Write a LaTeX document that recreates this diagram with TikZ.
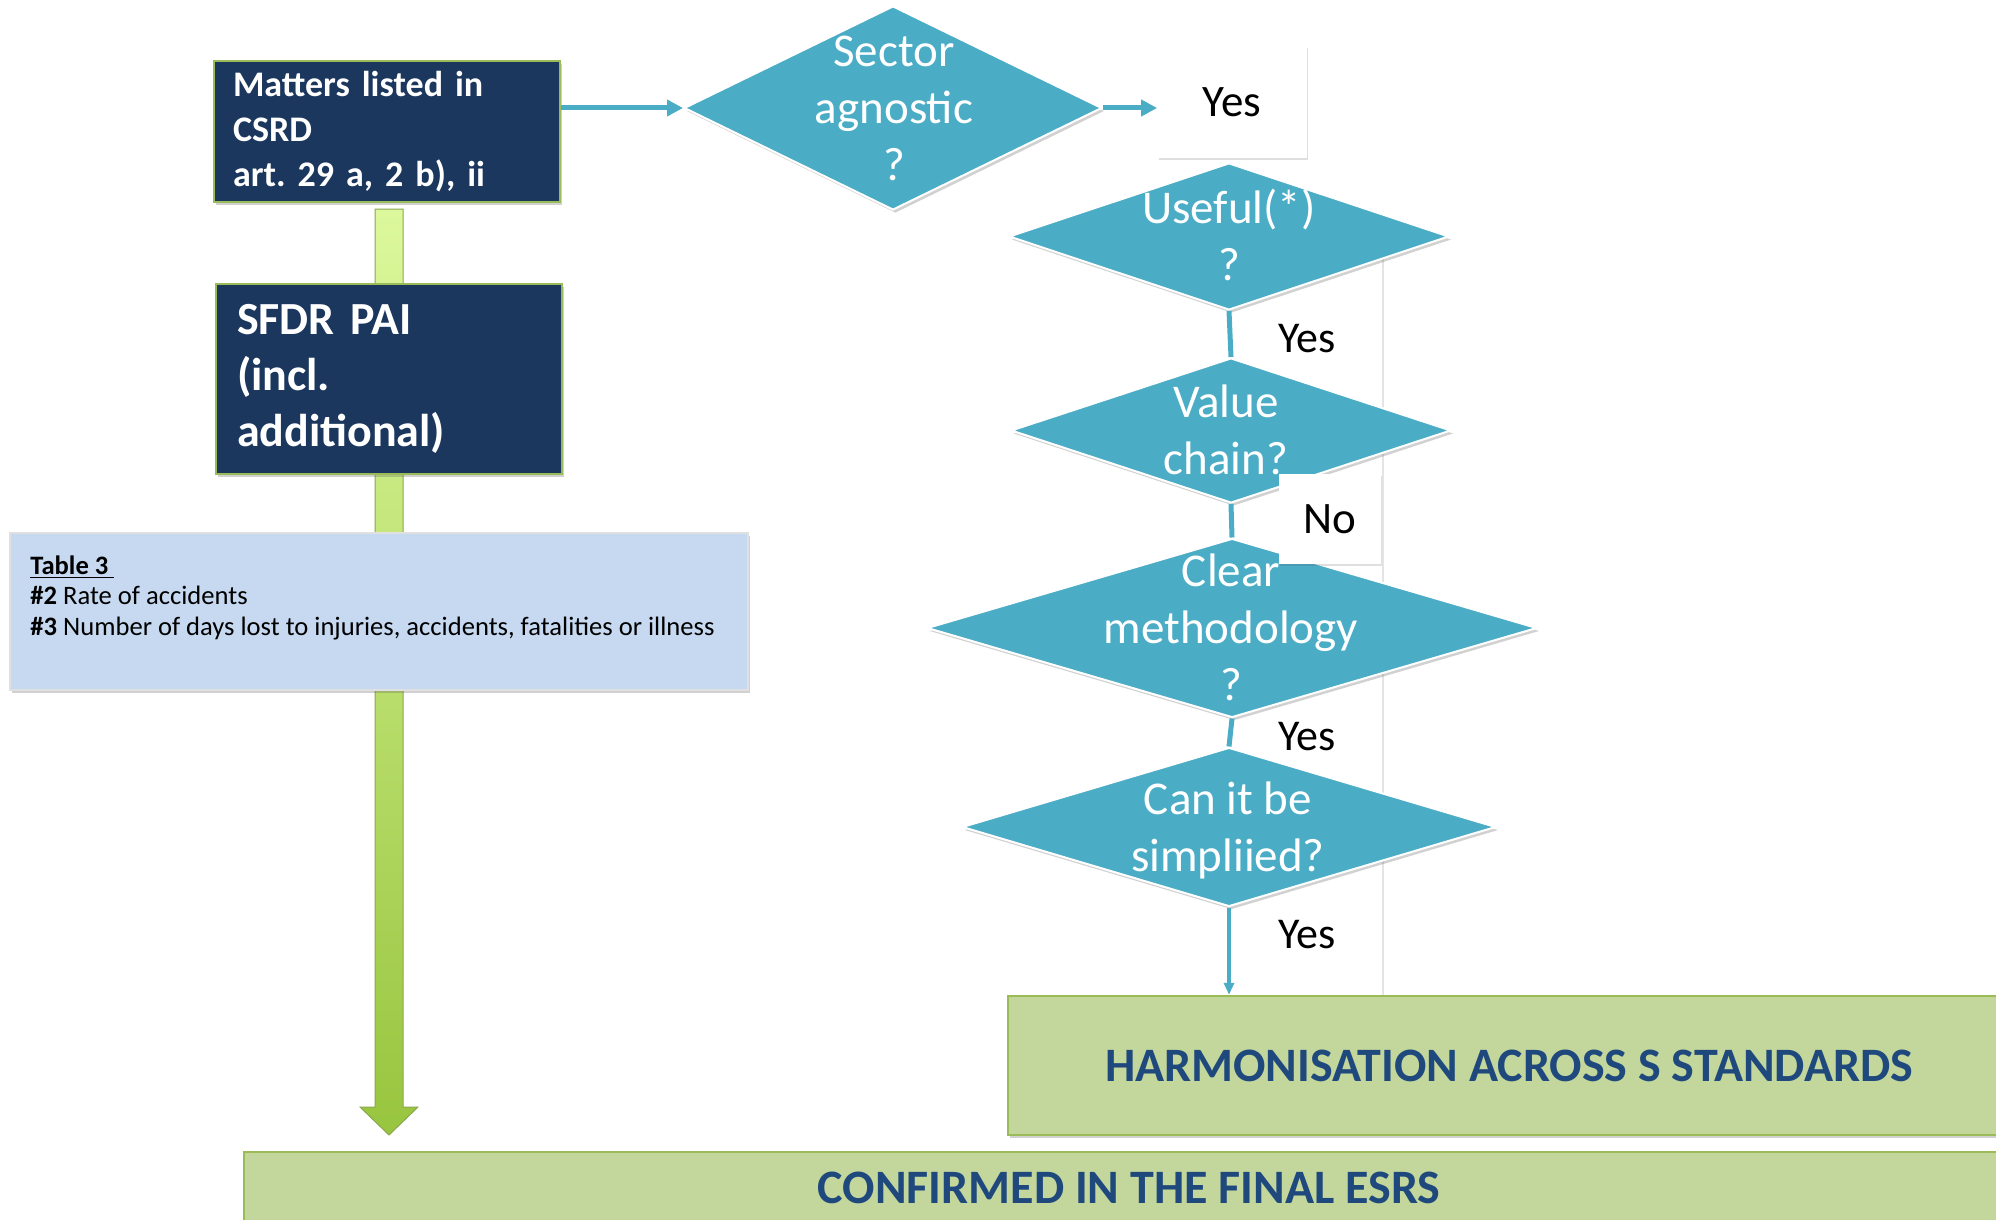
\documentclass[tikz,border=0pt]{standalone}
\usepackage{fontspec}
\setmainfont{Carlito}
\usetikzlibrary{shapes.geometric,arrows.meta,shadows,calc}
\definecolor{navy}{HTML}{1B375E}
\definecolor{ogreen}{HTML}{9BBB59}
\definecolor{tealc}{HTML}{4BACC6}
\definecolor{tblue}{HTML}{C6D9F1}
\definecolor{pgreen}{HTML}{C3D69B}
\definecolor{dblue}{HTML}{1F497D}
\definecolor{gtopc}{HTML}{DCF89C}
\definecolor{gbotc}{HTML}{98C53F}
\definecolor{faint}{HTML}{E4E4E4}
\begin{document}
\frenchspacing
\begin{tikzpicture}[x=0.5pt,y=-0.5pt,
  softshadow/.style={drop shadow={shadow xshift=1.2pt,shadow yshift=-1.5pt,opacity=0.3,fill=black!60}},
  lightshadow/.style={drop shadow={shadow xshift=0.5pt,shadow yshift=-1.2pt,opacity=0.18,fill=black!70}},
  navybox/.style={rectangle, fill=navy, draw=ogreen, line width=1.3pt, text=white, align=left, inner ysep=0pt, softshadow},
  decision/.style={diamond, fill=tealc, draw=white, line width=1pt, inner sep=0pt, softshadow},
  dtext/.style={text=white, align=center, inner sep=0pt, font=\fontsize{23.5pt}{28.5pt}\selectfont},
  ansbox/.style={rectangle, fill=white, inner sep=0pt, font=\fontsize{22.5pt}{27pt}\selectfont, lightshadow},
  anslabel/.style={anchor=base, inner sep=0pt, font=\fontsize{22pt}{26pt}\selectfont},
  resultbox/.style={rectangle, fill=pgreen, draw=ogreen, line width=1.2pt, text=dblue, inner sep=0pt, font=\fontsize{24pt}{28pt}\selectfont\bfseries, softshadow},
  flow/.style={draw=tealc, line width=2.5pt},
  flowtip/.style={flow, -{Triangle[length=8pt,width=8pt]}},
]
\useasboundingbox (0,0) rectangle (1996,1220);

% faint edge of the answer text box
\draw[faint, line width=0.6pt] (1383,250) -- (1383,1000);

% big green arrow
\coordinate (gtop) at (389,209);
\coordinate (gtip) at (389,1135);
\shadedraw[top color=gtopc, bottom color=gbotc, draw=ogreen!90!black, line width=0.5pt]
 ($(gtop)+(-14,0)$) -- ($(gtop)+(14,0)$) -- ($(gtip)+(14,-28)$) -- ($(gtip)+(29,-28)$) -- (gtip)
 -- ($(gtip)+(-29,-28)$) -- ($(gtip)+(-14,-28)$) -- cycle;

% left column
\node[navybox, minimum width=173pt, minimum height=70.5pt, text width=154pt, inner xsep=9.5pt,
      font=\fontsize{18pt}{22.5pt}\selectfont\bfseries] (b1) at (387,131.5)
      {Matters listed in\\CSRD\\art. 29 a, 2 b), ii};
\node[navybox, minimum width=173pt, minimum height=95pt, text width=152pt, inner xsep=10.5pt,
      font=\fontsize{23pt}{28pt}\selectfont\bfseries] (b2) at (389,379)
      {SFDR PAI\\(incl.\\additional)};
\node[rectangle, fill=tblue, draw=black!12, line width=0.8pt, minimum width=369pt, minimum height=78.5pt, softshadow] (tbl) at (379,611.5) {};
\node[anchor=north west, inner sep=0pt, align=left, font=\fontsize{13.3pt}{15.3pt}\selectfont] (tbltxt) at (30,555)
      {\underline{\textbf{Table 3\ }}\\\textbf{\#2} Rate of accidents\\\textbf{\#3} Number of days lost to injuries, accidents, fatalities or illness};

% decisions
\node[decision, minimum width=209pt, minimum height=102pt] (d1) at (893,108) {};
\node[dtext] (t1) at (894,108) {Sector\\agnostic\\?};
\node[decision, minimum width=220pt, minimum height=73.5pt] (d2) at (1229,236.5) {};
\node[dtext] (t2) at (1229,234.5) {Useful(*)\\?};
\node[decision, minimum width=220pt, minimum height=72.5pt] (d3) at (1231,430.5) {};
\node[dtext] (t3) at (1226,429.5) {Value\\chain?};
\node[decision, minimum width=305pt, minimum height=89.5pt] (d4) at (1232,628) {};
\node[dtext] (t4) at (1231,627) {Clear\\methodology\\?};
\node[decision, minimum width=267pt, minimum height=79.5pt] (d5) at (1229,827) {};
\node[dtext] (t5) at (1228,830.5) {Can it be\\simpliied?};

% answers
\node[ansbox, minimum width=74.5pt, minimum height=56pt] (y1) at (1232,102) {Yes};
\node[ansbox, minimum width=51pt, minimum height=45pt] (nb) at (1330,519) {No};
\node[anslabel] (y2) at (1307,352) {Yes};
\node[anslabel] (y3) at (1307,750) {Yes};
\node[anslabel] (y4) at (1307,948) {Yes};

% results
\node[resultbox, minimum width=501pt, minimum height=69.5pt] (hb) at (1509,1065.5) {HARMONISATION ACROSS S STANDARDS};
\node[resultbox, minimum width=885pt, minimum height=36pt] (cf) at (1129,1188) {CONFIRMED IN THE FINAL ESRS};

% connectors
\draw[flowtip] (b1.east |- d1.west) -- (d1.west);
\draw[flowtip] (d1.east) -- (d1.east -| y1.west);
\draw[flow] (d2.south) -- (d3.north);
\draw[flow] (d3.south) -- (d4.north);
\draw[flow] (d4.south) -- (d5.north);
\draw[flow, line width=2pt, -{Triangle[length=6pt,width=5pt]}] (d5.south) -- (d5.south |- hb.north);
\end{tikzpicture}
\end{document}
